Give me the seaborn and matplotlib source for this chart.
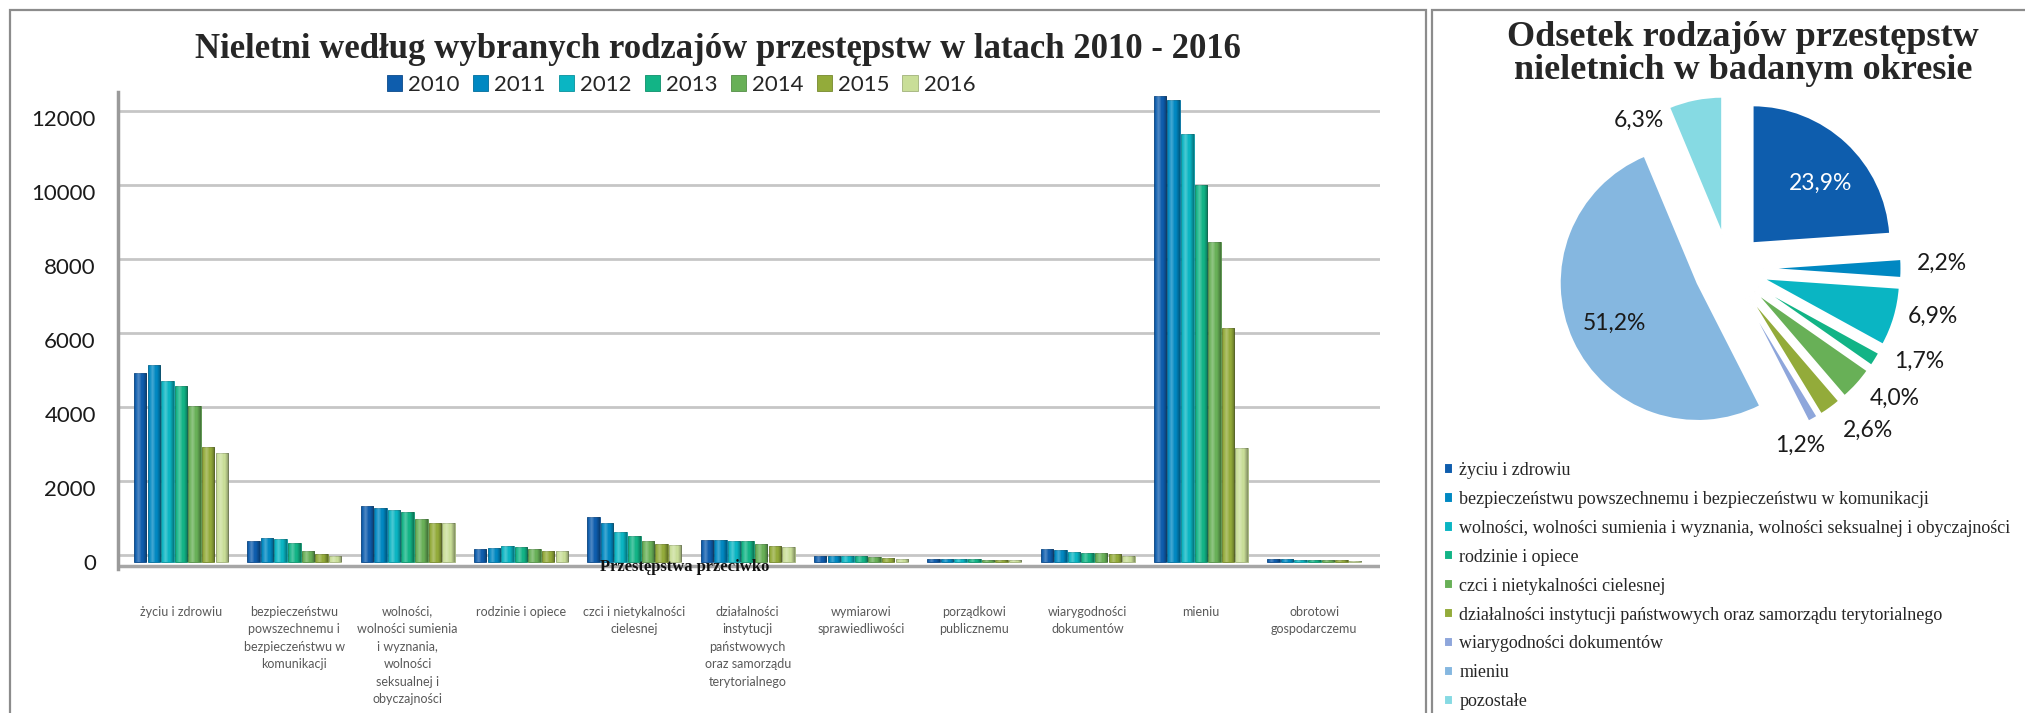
import numpy as np
import pandas as pd
import matplotlib
matplotlib.use('Agg')
import matplotlib.pyplot as plt
from matplotlib.patches import Rectangle
import seaborn as sns

# dane - słupki
kategorie = ['życiu i zdrowiu',
             'bezpieczeństwu\npowszechnemu i\nbezpieczeństwu w\nkomunikacji',
             'wolności,\nwolności sumienia\ni wyznania,\nwolności\nseksualnej i\nobyczajności',
             'rodzinie i opiece',
             'czci i nietykalności\ncielesnej',
             'działalności\ninstytucji\npaństwowych\noraz samorządu\nterytorialnego',
             'wymiarowi\nsprawiedliwości',
             'porządkowi\npublicznemu',
             'wiarygodności\ndokumentów',
             'mieniu',
             'obrotowi\ngospodarczemu']
lata = ['2010', '2011', '2012', '2013', '2014', '2015', '2016']
zycie = [5100, 5330, 4880, 4770, 4220, 3100, 2950]
bezpieczenstwo = [560, 650, 610, 510, 300, 220, 170]
wolnosc = [1510, 1470, 1410, 1350, 1170, 1050, 1060]
rodzina = [340, 390, 420, 400, 360, 290, 290]
czesc = [1210, 1060, 810, 700, 570, 480, 450]
instytucje = [590, 605, 560, 555, 495, 420, 405]
wymiar = [170, 160, 170, 160, 140, 100, 70]
porzadek = [80, 70, 70, 80, 60, 60, 50]
dokumenty = [340, 330, 270, 240, 240, 225, 170]
mienie = [12600, 12490, 11570, 10190, 8640, 6320, 3070]
obrot = [90, 70, 60, 60, 50, 50, 40]
kolory_lat = ['#0E5DAD', '#0088C2', '#0AB5C3', '#12B486', '#68B057', '#93AB3A', '#C9DE98']

# dane - wykres kołowy
pie_labels = ['życiu i zdrowiu',
              'bezpieczeństwu powszechnemu i bezpieczeństwu w komunikacji',
              'wolności, wolności sumienia i wyznania, wolności seksualnej i obyczajności',
              'rodzinie i opiece',
              'czci i nietykalności cielesnej',
              'działalności instytucji państwowych oraz samorządu terytorialnego',
              'wiarygodności dokumentów',
              'mieniu',
              'pozostałe']
pie_values = [23.9, 2.2, 6.9, 1.7, 4.0, 2.6, 1.2, 51.2, 6.3]
pie_colors = ['#0E5DAD', '#0088C2', '#0AB5C3', '#12B486', '#68B057', '#93AB3A',
              '#8EA6DB', '#85B7E0', '#86DAE3']

serie = [zycie, bezpieczenstwo, wolnosc, rodzina, czesc, instytucje, wymiar,
         porzadek, dokumenty, mienie, obrot]
rows = []
for kat, wart in zip(kategorie, serie):
    for rok, v in zip(lata, wart):
        rows.append({'kategoria': kat, 'rok': rok, 'liczba': v})
df = pd.DataFrame(rows)

sns.set_theme(style='white')
plt.rcParams['font.family'] = ['Lato', 'DejaVu Sans']

W, H = 2025, 713
fig = plt.figure(figsize=(W / 100, H / 100), dpi=100)


def fx(x):
    return x / W


def fy(y):
    return 1 - y / H


# ramki paneli
fig.patches.append(Rectangle((fx(10), fy(760)), (1426 - 10) / W, (760 - 10) / H,
                             transform=fig.transFigure, fill=False, ec='#8c8c8c', lw=1.6))
fig.patches.append(Rectangle((fx(1432), fy(760)), (2080 - 1432) / W, (760 - 10) / H,
                             transform=fig.transFigure, fill=False, ec='#8c8c8c', lw=1.6))

# ---- wykres słupkowy ----
ax = fig.add_axes([fx(118), fy(569.4), (1380 - 118) / W, (569.4 - 92.2) / H])
sns.barplot(data=df, x='kategoria', y='liczba', hue='rok', hue_order=lata,
            palette=kolory_lat, saturation=1, width=0.84, gap=0.08, ax=ax, zorder=3)

# cieniowanie "walców"
t = np.linspace(0, 1, 40)
shade = np.zeros((1, 40, 4))
light = np.clip(1 - np.abs(t - 0.35) / 0.25, 0, 1)
dark = np.clip((np.abs(t - 0.4) - 0.3) / 0.3, 0, 1)
shade[0, :, :3] = (light > 0)[:, None] * 1.0
shade[0, :, 3] = light * 0.28 + dark * 0.35
shade[0, light == 0, :3] = 0
for p in list(ax.patches):
    fc = np.array(p.get_facecolor()[:3])
    p.set_edgecolor(tuple(fc * 0.8))
    p.set_linewidth(0.6)
    x0, w, h = p.get_x(), p.get_width(), p.get_height()
    if h <= 0:
        continue
    im = ax.imshow(shade, extent=(x0, x0 + w, 0, h), aspect='auto',
                   interpolation='bilinear', zorder=4)
    im.set_clip_path(p)

handles, labels = ax.get_legend_handles_labels()
ax.get_legend().remove()

ax.set_xlim(-0.556, 10.58)
ax.set_ylim(-200, 12700)
wall_offset = 200
ticks = list(range(0, 12001, 2000))
for v in ticks:
    ax.axhline(v + wall_offset, color='#c6c6c6', lw=2, zorder=0)
ax.axhline(-120, color='#a6a6a6', lw=2.5, zorder=1)
ax.set_yticks(ticks)
ax.set_yticklabels([str(t) for t in ticks])
ax.tick_params(axis='y', length=0, pad=16, labelsize=16, labelcolor='#1a1a1a')
ax.set_xticks(range(len(kategorie)))
ax.set_xticklabels(kategorie, fontsize=9, color='#595959', linespacing=1.55, va='top')
ax.tick_params(axis='x', length=0, pad=26)
ax.set_xlabel('')
ax.set_ylabel('')
for s in ['top', 'right', 'bottom']:
    ax.spines[s].set_visible(False)
ax.spines['left'].set_color('#9a9a9a')
ax.spines['left'].set_linewidth(2.5)
ax.set_facecolor('none')

fig.text(fx(685), fy(567), 'Przestępstwa przeciwko', ha='center', va='center',
         fontsize=12, fontweight='bold', family='Liberation Serif', color='#111111')

fig.text(fx(718), fy(49), 'Nieletni według wybranych rodzajów przestępstw w latach 2010 - 2016',
         ha='center', va='center', fontsize=25, fontweight='bold', family='Liberation Serif')

fig.legend(handles, labels, loc='center', bbox_to_anchor=(fx(681), fy(85)), ncol=7,
           frameon=False, fontsize=16, handlelength=0.7, handleheight=0.7,
           handletextpad=0.25, columnspacing=0.6, borderpad=0)

# ---- wykres kołowy ----
R = 138
cx, cy = 1729, 268.5
axp = fig.add_axes([fx(cx - 260), fy(cy + 200), 520 / W, 400 / H])
wedges, _ = axp.pie(pie_values, colors=pie_colors, startangle=90, counterclock=False,
                    explode=[0.25] * len(pie_values),
                    wedgeprops=dict(edgecolor='white', linewidth=1.5))
axp.set_aspect('auto')
axp.set_xlim(-260 / R, 260 / R)
axp.set_ylim(-200 / R, 200 / R)
axp.axis('off')

vals = np.array(pie_values)
mid = (np.cumsum(vals) - vals / 2) / vals.sum() * 360
label_r = [0.907, 1.545, 1.517, 1.537, 1.526, 1.545, 1.379, 0.923, 1.26]
label_da = [4, -1.4, -3.1, -5.8, -4, -4.8, 7.3, -0.7, -20]
for i, v in enumerate(pie_values):
    ang = np.deg2rad(mid[i] + label_da[i])
    x, y = label_r[i] * np.sin(ang), label_r[i] * np.cos(ang)
    col = 'white' if i == 0 else '#1a1a1a'
    axp.text(x, y, f'{v:.1f}%'.replace('.', ','), ha='center', va='center',
             fontsize=16.5, color=col, clip_on=False)

fig.text(fx(1743), fy(54), 'Odsetek rodzajów przestępstw\nnieletnich w badanym okresie',
         ha='center', va='center', linespacing=1.0, fontsize=26, fontweight='bold',
         family='Liberation Serif')

fig.legend(wedges, pie_labels, loc='upper left', bbox_to_anchor=(fx(1444), fy(462)),
           frameon=False, prop={'family': 'Liberation Serif', 'size': 13},
           handlelength=0.5, handleheight=0.5, handletextpad=0.35,
           labelspacing=0.66, borderpad=0, borderaxespad=0)

fig.savefig('out.png', dpi=100)
